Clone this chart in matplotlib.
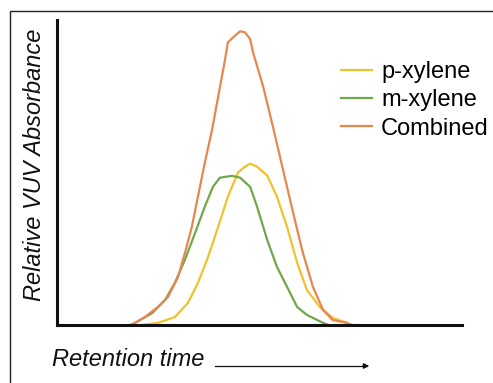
import numpy as np
import matplotlib.pyplot as plt
from matplotlib.patches import Rectangle

plt.rcParams['font.family'] = ['Liberation Sans', 'DejaVu Sans']

# retention time (arbitrary units) and relative absorbance
t_combined = [1.80, 1.93, 2.17, 2.49, 2.74, 2.99, 3.16, 3.33, 3.48, 3.65,
              3.83, 3.98, 4.15, 4.22, 4.35, 4.52, 4.64, 4.77, 4.84, 5.09,
              5.33, 5.58, 5.83, 6.07, 6.32, 6.57, 6.81, 7.16, 7.25]
y_combined = [0.0, 0.007, 0.026, 0.059, 0.092, 0.158, 0.237, 0.322, 0.421, 0.532,
              0.641, 0.749, 0.871, 0.927, 0.943, 0.963, 0.960, 0.937, 0.894, 0.782,
              0.651, 0.509, 0.368, 0.237, 0.125, 0.049, 0.016, 0.007, 0.0]

t_meta = [1.85, 1.93, 2.35, 2.67, 2.91, 3.16, 3.41, 3.65, 3.85, 4.02,
          4.32, 4.52, 4.77, 4.94, 5.19, 5.43, 5.68, 5.93, 6.17, 6.57, 6.70]
y_meta = [0.0, 0.007, 0.039, 0.082, 0.138, 0.214, 0.302, 0.388, 0.453, 0.483,
          0.489, 0.483, 0.453, 0.388, 0.279, 0.191, 0.125, 0.059, 0.033, 0.007, 0.0]

t_para = [2.10, 2.49, 2.91, 3.23, 3.48, 3.73, 3.98, 4.22, 4.47, 4.64,
          4.77, 4.94, 5.19, 5.43, 5.68, 5.93, 6.17, 6.49, 6.81, 7.16, 7.30]
y_para = [0.0, 0.007, 0.026, 0.072, 0.138, 0.223, 0.322, 0.421, 0.500, 0.519,
          0.529, 0.519, 0.490, 0.421, 0.322, 0.204, 0.115, 0.059, 0.023, 0.007, 0.0]

labels = ['p-xylene', 'm-xylene', 'Combined']
colors = ['#f2c12e', '#6fa84a', '#e6874f']

fig = plt.figure(figsize=(4.93, 3.83), dpi=100)
W, H = 493, 383
ax = fig.add_axes([57 / W, 1 - 325 / H, 405 / W, 305 / H])

ax.plot(t_para, y_para, color=colors[0], lw=1.6, label=labels[0],
        solid_joinstyle='round')
ax.plot(t_meta, y_meta, color=colors[1], lw=1.6, label=labels[1],
        solid_joinstyle='round')
ax.plot(t_combined, y_combined, color=colors[2], lw=1.6, label=labels[2],
        solid_joinstyle='round')

ax.set_xlim(0, 10)
ax.set_ylim(0, 1)
ax.set_xticks([])
ax.set_yticks([])
for s in ['top', 'right']:
    ax.spines[s].set_visible(False)
for s in ['left', 'bottom']:
    ax.spines[s].set_linewidth(2.2)
    ax.spines[s].set_color('#111111')

ax.legend(loc='upper left', bbox_to_anchor=(341 / W, 1 - 61 / H),
          bbox_transform=fig.transFigure, frameon=False, fontsize=17,
          handlelength=1.3, handletextpad=0.4, labelspacing=0.27,
          borderpad=0, borderaxespad=0)

fig.text(35 / W, 1 - 165 / H, 'Relative VUV Absorbance', rotation=90,
         style='italic', fontsize=17, ha='center', va='center', color='#111111')
fig.text(52 / W, 1 - 360 / H, 'Retention time', style='italic', fontsize=17,
         ha='left', va='center', color='#111111')
fig.add_artist(plt.Line2D([215 / W, 366 / W], [1 - 366 / H, 1 - 366 / H],
                          color='#111111', lw=0.9))
ax.annotate('', xy=(372 / W, 1 - 366 / H), xytext=(360 / W, 1 - 366 / H),
            xycoords='figure fraction',
            arrowprops=dict(arrowstyle='-|>', color='#111111', lw=0.9,
                            mutation_scale=8))

# frame around the picture, cut off on the right and bottom
fig.add_artist(Rectangle((10 / W, -0.1), 1.2, 1.1 - 11 / H,
                         transform=fig.transFigure, fill=False,
                         edgecolor='#222222', lw=1.0))

fig.savefig('out.png', dpi=100)
